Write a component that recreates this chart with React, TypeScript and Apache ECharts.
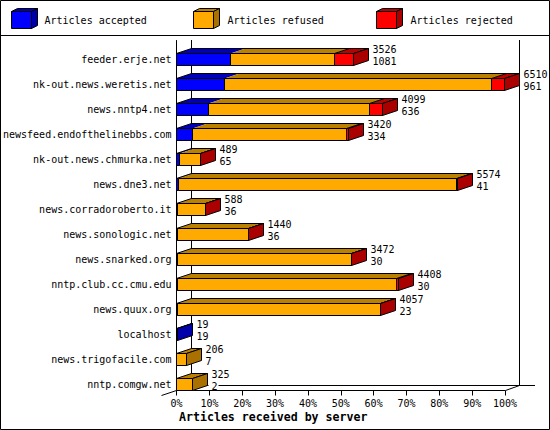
import React, { useEffect, useRef } from "react";
import * as echarts from "echarts";

const servers = [
  "feeder.erje.net", "nk-out.news.weretis.net", "news.nntp4.net", "newsfeed.endofthelinebbs.com",
  "nk-out.news.chmurka.net", "news.dne3.net", "news.corradoroberto.it", "news.sonologic.net",
  "news.snarked.org", "nntp.club.cc.cmu.edu", "news.quux.org", "localhost",
  "news.trigofacile.com", "nntp.comgw.net",
];
const accepted = [1081, 961, 636, 334, 65, 41, 36, 36, 30, 30, 23, 19, 7, 2];
const refused = [2060, 5288, 3199, 3046, 419, 5523, 549, 1401, 3439, 4338, 4024, 0, 199, 323];
const rejected = [385, 261, 264, 40, 5, 10, 3, 3, 3, 40, 10, 0, 0, 0];
const totals = [3526, 6510, 4099, 3420, 489, 5574, 588, 1440, 3472, 4408, 4057, 19, 206, 325];
const legendNames = ["Articles accepted", "Articles refused", "Articles rejected"];
const axisTitle = "Articles received by server";

const FRONT = ["#0000ff", "#ffaa00", "#ff0000"];
const TOP = ["#0000bb", "#bb8000", "#bb0000"];
const SIDE = ["#0000aa", "#aa7100", "#aa0000"];
const FONT = '"DejaVu Sans Mono", monospace';
const DX = 15;
const DY = 5;
const BAR_H = 12;
const maxTotal = Math.max(...totals);

const snap = (v: number) => Math.floor(v - 0.5) + 0.5;

function renderBar(_: any, api: any) {
  const idx = api.value(0);
  const vals = [api.value(1), api.value(2), api.value(3)];
  const total = api.value(4);
  const center = api.coord([0, idx]);
  const yTop = center[1] + 0.5;
  const yBot = yTop + BAR_H;
  const children: any[] = [];
  let sum = 0;
  let lastColor = 0;
  const x0 = snap(center[0]);
  let xEnd = x0;
  const fronts: any[] = [];
  const edges: any[] = [];
  vals.forEach((v: number, i: number) => {
    if (v <= 0) return;
    const a = xEnd;
    sum += v;
    const b = snap(api.coord([sum, idx])[0]);
    children.push({
      type: "polygon",
      shape: { points: [[a, yTop], [a + DX, yTop - DY], [b + DX, yTop - DY], [b, yTop]] },
      style: { fill: TOP[i], stroke: null },
    });
    fronts.push({
      type: "rect",
      shape: { x: a, y: yTop, width: b - a, height: BAR_H },
      style: { fill: FRONT[i], stroke: "#000", lineWidth: 1 },
    });
    if (i === 2 && a > x0) {
      edges.push({
        type: "line",
        shape: { x1: a, y1: yTop, x2: a + DX, y2: yTop - DY },
        style: { stroke: "#000", lineWidth: 1 },
      });
    }
    xEnd = b;
    lastColor = i;
  });
  children.push({
    type: "polygon",
    shape: { points: [[x0, yTop], [x0 + DX, yTop - DY], [xEnd + DX, yTop - DY], [xEnd, yTop]] },
    style: { fill: "none", stroke: "#000", lineWidth: 1 },
  });
  children.push(...edges);
  children.push(...fronts);
  children.push({
    type: "polygon",
    shape: { points: [[xEnd, yTop], [xEnd + DX, yTop - DY], [xEnd + DX, yBot - DY], [xEnd, yBot]] },
    style: { fill: SIDE[lastColor], stroke: "#000", lineWidth: 1 },
  });
  const lx = xEnd + DX + 4;
  [String(total), String(vals[0])].forEach((t, k) => {
    children.push({
      type: "text",
      style: {
        text: t, x: lx - 3, y: yTop + (k === 0 ? -4 : 7.5),
        fill: "#000", font: `10px ${FONT}`,
        verticalAlign: "middle", align: "left",
        lineHeight: 8, padding: [0, 1, 0, 3], backgroundColor: "#fff",
      },
    });
  });
  return { type: "group", children };
}

const lineEl = (x1: number, y1: number, x2: number, y2: number) => ({
  type: "line", z: 0, shape: { x1, y1, x2, y2 }, style: { stroke: "#000", lineWidth: 1 },
});

const legendEl = (i: number, x: number, textX: number) => [
  { type: "polygon", z: 1, shape: { points: [[x, 11.5], [x + 6, 8.5], [x + 26, 8.5], [x + 20, 11.5]] }, style: { fill: TOP[i], stroke: "#000", lineWidth: 1 } },
  { type: "polygon", z: 1, shape: { points: [[x + 20, 11.5], [x + 26, 8.5], [x + 26, 25.5], [x + 20, 28.5]] }, style: { fill: SIDE[i], stroke: "#000", lineWidth: 1 } },
  { type: "rect", z: 1, shape: { x, y: 11.5, width: 20, height: 17 }, style: { fill: FRONT[i], stroke: "#000", lineWidth: 1 } },
  { type: "text", z: 1, style: { text: legendNames[i], x: textX, y: 20, fill: "#000", font: `10px ${FONT}`, verticalAlign: "middle" } },
];

export default function App() {
  const ref = useRef<HTMLDivElement>(null);
  useEffect(() => {
    const chart = echarts.init(ref.current!, null, { renderer: "svg", width: 550, height: 430 });
    chart.setOption({
      animation: false,
      backgroundColor: "#fff",
      title: {
        text: axisTitle, left: 179, top: 411, padding: 0,
        textStyle: { fontFamily: FONT, fontWeight: "bold", fontSize: 11.6, color: "#000" },
      },
      grid: { left: 176.5, top: 40.5, width: 328.5, height: 350, containLabel: false },
      xAxis: {
        type: "value", min: 0, max: maxTotal, interval: maxTotal / 10,
        splitLine: { show: false },
        axisLine: { show: true, lineStyle: { color: "#000", width: 1 } },
        axisTick: { show: true, length: 5, lineStyle: { color: "#000", width: 1 } },
        axisLabel: {
          margin: 8, color: "#000", fontFamily: FONT, fontSize: 10,
          formatter: (v: number) => `${Math.round((v / maxTotal) * 100)}%`,
        },
      },
      yAxis: {
        type: "category", inverse: true, data: servers,
        axisLine: { show: true, lineStyle: { color: "#000", width: 1 } },
        axisTick: { show: false },
        axisLabel: {
          margin: 5, color: "#000", fontFamily: FONT, fontSize: 10, interval: 0,
          verticalAlign: "top", lineHeight: 13,
        },
      },
      graphic: [
        { type: "rect", z: 0, shape: { x: 0.5, y: 0.5, width: 549, height: 429 }, style: { fill: "none", stroke: "#000", lineWidth: 1 } },
        lineEl(0, 35.5, 550, 35.5),
        lineEl(191.5, 40, 191.5, 385.5),
        lineEl(519.5, 40, 519.5, 385.5),
        lineEl(191, 385.5, 535, 385.5),
        lineEl(161.5, 395.5, 176.5, 390.5),
        lineEl(505.5, 390.5, 519.5, 385.5),
        ...legendEl(0, 11.5, 44.5),
        ...legendEl(1, 193.5, 227.5),
        ...legendEl(2, 376.5, 410.5),
      ],
      series: [
        {
          type: "custom",
          z: 5,
          renderItem: renderBar,
          encode: { x: [1, 2, 3], y: 0 },
          data: servers.map((_, i) => [i, accepted[i], refused[i], rejected[i], totals[i]]),
        },
      ],
    });
    return () => chart.dispose();
  }, []);
  return <div ref={ref} style={{ position: "absolute", left: 0, top: 0, width: 550, height: 430 }} />;
}
